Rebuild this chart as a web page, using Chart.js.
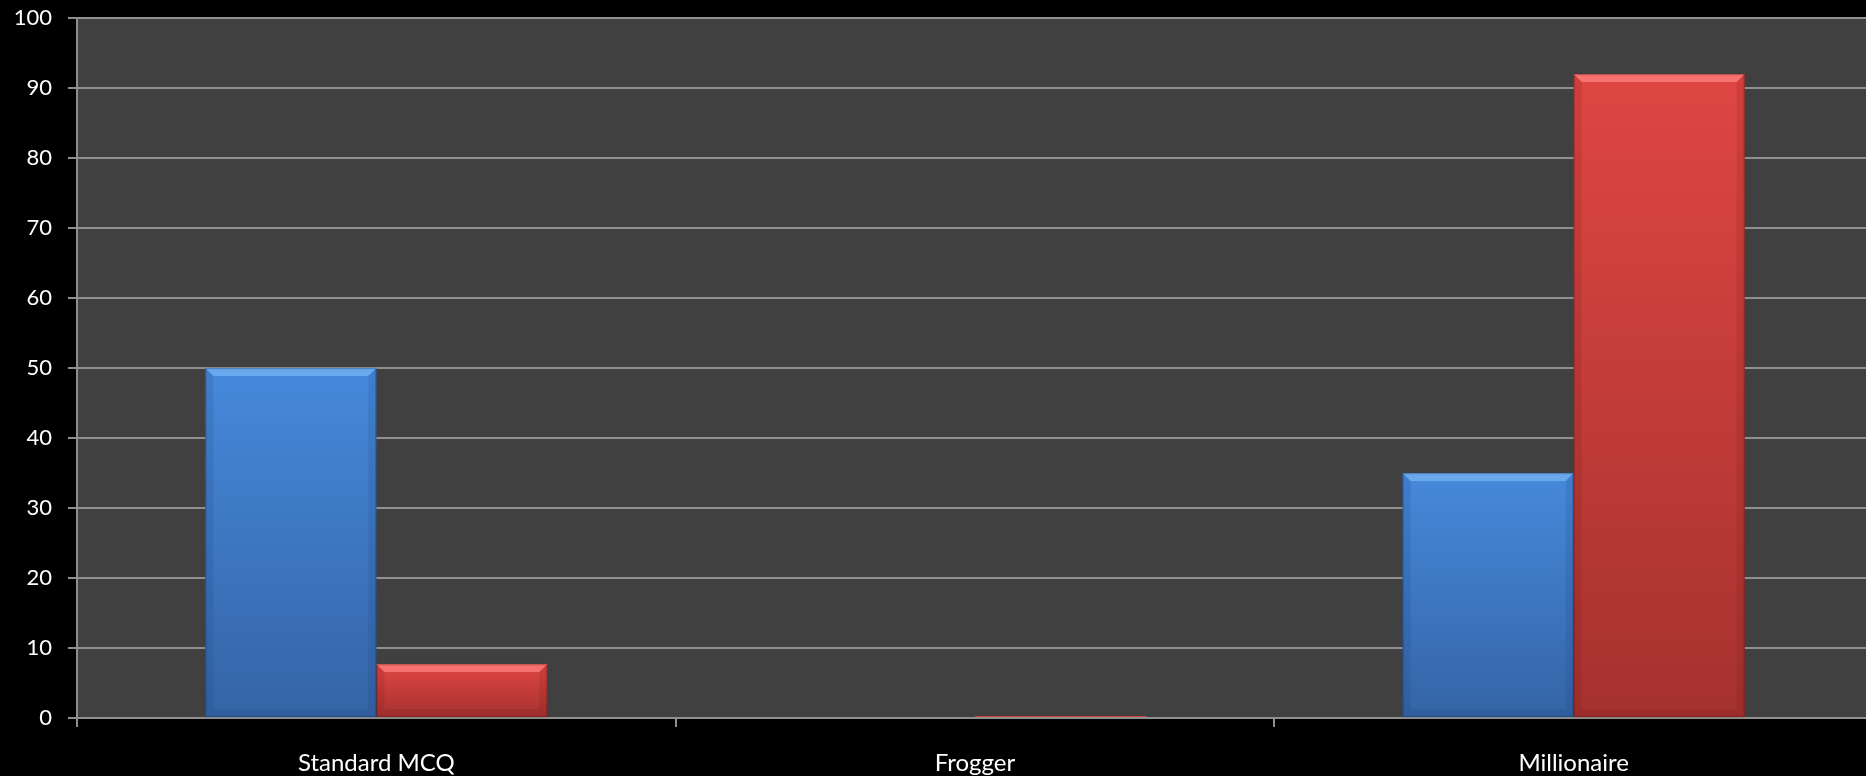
<!DOCTYPE html>
<html>
<head>
<meta charset="utf-8">
<script src="https://cdn.jsdelivr.net/npm/chart.js@4.4.1/dist/chart.umd.min.js"></script>
<style>
  html, body { margin: 0; padding: 0; background: #000; overflow: hidden; }
  #wrap { width: 1873px; height: 776px; position: relative; }
</style>
</head>
<body>
<div id="wrap"><canvas id="chart"></canvas></div>
<script>
// Quiz formats and the two result series
const categories = ['Standard MCQ', 'Frogger', 'Millionaire'];
const seriesA = [50, 0, 35];
const seriesB = [7.7, 0.3, 92];
const yTicks = [0, 10, 20, 30, 40, 50, 60, 70, 80, 90, 100];

const palette = {
  blue: { top: '#4689db', bottom: '#3464a6', bevel: '#74b2f3', edge: 'rgba(20,50,100,0.6)' },
  red:  { top: '#df4642', bottom: '#a5322f', bevel: '#fb7e7a', edge: 'rgba(90,15,15,0.6)' }
};

// Vertical gradient spanning each bar from its value down to zero
function barGradient(c) {
  return function (ctx) {
    const chart = ctx.chart;
    const y = chart.scales && chart.scales.y;
    if (!chart.chartArea || !y || ctx.raw == null) return c.top;
    const top = y.getPixelForValue(ctx.raw);
    const base = y.getPixelForValue(0);
    if (base - top < 1) return c.bottom;
    const g = chart.ctx.createLinearGradient(0, top, 0, base);
    g.addColorStop(0, c.top);
    g.addColorStop(1, c.bottom);
    return g;
  };
}

// Dark plot background
const plotBackground = {
  id: 'plotBackground',
  beforeDraw(chart) {
    const { ctx, chartArea: a } = chart;
    ctx.save();
    ctx.fillStyle = '#404040';
    ctx.fillRect(a.left, a.top, a.right - a.left, a.bottom - a.top);
    ctx.restore();
  }
};

// Bevelled top edge and soft shaded sides on each bar
const bevel = {
  id: 'bevel',
  afterDatasetsDraw(chart) {
    const ctx = chart.ctx;
    chart.data.datasets.forEach((ds, i) => {
      const c = ds._colors;
      chart.getDatasetMeta(i).data.forEach(bar => {
        const left = bar.x - bar.width / 2, right = bar.x + bar.width / 2;
        const top = bar.y, bottom = bar.base;
        const h = bottom - top;
        if (h < 4) return;
        const b = Math.min(8, h / 2);
        ctx.save();
        // top bevel
        ctx.fillStyle = c.bevel;
        ctx.globalAlpha = 0.8;
        ctx.beginPath();
        ctx.moveTo(left, top); ctx.lineTo(right, top);
        ctx.lineTo(right - b, top + b); ctx.lineTo(left + b, top + b);
        ctx.closePath(); ctx.fill();
        // side shading
        ctx.globalAlpha = 0.2;
        ctx.fillStyle = c.edge;
        ctx.beginPath();
        ctx.moveTo(left, top); ctx.lineTo(left + b, top + b);
        ctx.lineTo(left + b, bottom - b); ctx.lineTo(left, bottom);
        ctx.closePath(); ctx.fill();
        ctx.beginPath();
        ctx.moveTo(right, top); ctx.lineTo(right - b, top + b);
        ctx.lineTo(right - b, bottom - b); ctx.lineTo(right, bottom);
        ctx.closePath(); ctx.fill();
        ctx.beginPath();
        ctx.moveTo(left, bottom); ctx.lineTo(left + b, bottom - b);
        ctx.lineTo(right - b, bottom - b); ctx.lineTo(right, bottom);
        ctx.closePath(); ctx.fill();
        // outline
        ctx.globalAlpha = 0.5;
        ctx.strokeStyle = c.edge;
        ctx.lineWidth = 1.5;
        ctx.strokeRect(left + 0.5, top + 0.5, right - left - 1, h - 1);
        ctx.restore();
      });
    });
  }
};

Chart.defaults.font.family = 'Lato, "Open Sans", sans-serif';

new Chart(document.getElementById('chart'), {
  type: 'bar',
  data: {
    labels: categories,
    datasets: [
      { label: 'A', data: seriesA, backgroundColor: barGradient(palette.blue), _colors: palette.blue, borderWidth: 0 },
      { label: 'B', data: seriesB, backgroundColor: barGradient(palette.red), _colors: palette.red, borderWidth: 0 }
    ]
  },
  options: {
    responsive: true,
    maintainAspectRatio: false,
    animation: false,
    datasets: { bar: { barPercentage: 1, categoryPercentage: 2 / 3.5 } },
    layout: { padding: { top: 18, right: 0, left: 0, bottom: 0 } },
    plugins: { legend: { display: false }, tooltip: { enabled: false } },
    scales: {
      x: {
        grid: { offset: true, drawOnChartArea: false, color: '#8f8f8f', lineWidth: 2, tickLength: 9 },
        border: { color: '#8f8f8f', width: 2 },
        ticks: { color: '#ffffff', font: { size: 24 }, padding: 22, maxRotation: 0 },
        afterFit(s) { s.height = 58; s.paddingLeft = 0; s.paddingRight = 0; }
      },
      y: {
        min: 0, max: 100,
        afterBuildTicks(s) { s.ticks = yTicks.map(v => ({ value: v })); },
        grid: { color: '#8f8f8f', lineWidth: 2, tickLength: 9 },
        border: { color: '#8f8f8f', width: 2 },
        ticks: { color: '#ffffff', font: { size: 22 }, padding: 16 },
        afterFit(s) { s.width = 77; s.paddingTop = 0; s.paddingBottom = 0; }
      }
    }
  },
  plugins: [plotBackground, bevel]
});
</script>
</body>
</html>
